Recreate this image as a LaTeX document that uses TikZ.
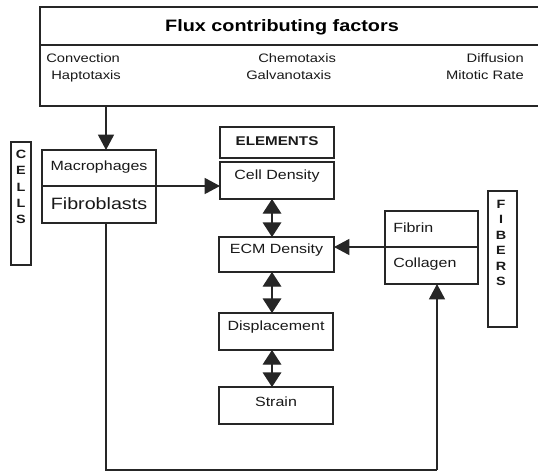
\documentclass[tikz,border=0pt]{standalone}
\usepackage{fontspec}
\setmainfont{Liberation Sans}[FakeStretch=1.2]
\usetikzlibrary{arrows.meta}
\begin{document}
\begin{tikzpicture}[x=0.75pt,y=-0.75pt,
  pbox/.style 2 args={draw=black!85, line width=0.8pt, inner sep=0pt, outer sep=0pt,
    minimum width=#1*0.75pt, minimum height=#2*0.75pt},
  lbl/.style={inner sep=0pt, font=\fontsize{10}{12}\selectfont, text=black!90},
  toplbl/.style={inner sep=0pt, font=\fontsize{9.2}{12}\selectfont, text=black!90},
  bigl/.style={inner sep=0pt, font=\fontsize{12.3}{14}\selectfont, text=black!90},
  boldl/.style={inner sep=0pt, font=\bfseries\fontsize{9.5}{12}\selectfont, text=black!90},
  titl/.style={inner sep=0pt, font=\bfseries\fontsize{12.4}{14}\selectfont, text=black},
  vlet/.style={inner sep=0pt, align=center, font=\bfseries\fontsize{9}{#1}\selectfont, text=black!90},
  link/.style={draw=black!85, line width=1pt, -{Triangle[length=11.5pt,width=12pt]}},
  dbl/.style={draw=black!85, line width=1pt,
    {Triangle[length=11pt,width=14pt]}-{Triangle[length=11pt,width=14pt]}},
  plain/.style={draw=black!85, line width=1pt}]
\clip (0,0) rectangle (538,472);
\fill[white] (0,0) rectangle (538,472);

% top box
\node[pbox={520}{38}] (head) at (300,26) {};
\node[pbox={520}{61}] (body) at (300,75.5) {};
\node[titl, anchor=base] (title) at (282,31) {Flux contributing factors};
\node[toplbl, anchor=base west] (conv) at (46,62) {Convection};
\node[toplbl, anchor=base west] (hapt) at (51,79) {Haptotaxis};
\node[toplbl, anchor=base west] (chem) at (258,62) {Chemotaxis};
\node[toplbl, anchor=base west] (galv) at (246,79) {Galvanotaxis};
\node[toplbl, anchor=base east] (diff) at (524,62) {Diffusion};
\node[toplbl, anchor=base east] (mito) at (524,79) {Mitotic Rate};

% cells
\node[pbox={20}{123}] (cells) at (21,203.5) {};
\node[vlet=12.2pt] (cellst) at (21,187) {C\\E\\L\\L\\S};
\node[pbox={114}{36}] (mac) at (99,168) {};
\node[pbox={114}{37}] (fib) at (99,204.5) {};
\node[lbl] (mact) at ([yshift=1pt]mac.center) {Macrophages};
\node[bigl] (fibt) at ([yshift=1pt]fib.center) {Fibroblasts};

% elements
\node[pbox={114}{31}] (elem) at (277,142.5) {};
\node[boldl] (elemt) at ([yshift=1pt]elem.center) {ELEMENTS};
\node[pbox={114}{37}] (cell) at (277,180.5) {};
\node[lbl] (cellt) at ([yshift=3pt]cell.center) {Cell Density};
\node[pbox={115}{35}] (ecm) at (276.5,254.5) {};
\node[lbl] (ecmt) at ([yshift=3pt]ecm.center) {ECM Density};
\node[pbox={114}{37}] (disp) at (276,331.5) {};
\node[lbl] (dispt) at ([yshift=3pt]disp.center) {Displacement};
\node[pbox={114}{37}] (strain) at (276,405.5) {};
\node[lbl] (straint) at ([yshift=3pt]strain.center) {Strain};

% fibers
\node[pbox={93}{36}] (fibrin) at (431.5,229) {};
\node[pbox={93}{37}] (coll) at (431.5,265.5) {};
\node[lbl, anchor=west] (fibrint) at ([xshift=6pt,yshift=1pt]fibrin.west) {Fibrin};
\node[lbl, anchor=west] (collt) at ([xshift=6pt,yshift=1pt]coll.west) {Collagen};
\node[pbox={29}{136}] (fibers) at (502.5,259) {};
\node[vlet=11.55pt] (fiberst) at (501,243) {F\\I\\B\\E\\R\\S};

% connectors
\coordinate (ax) at (272,0);
\coordinate (bl) at (106,470);
\coordinate (br) at (437,470);
\draw[link] (body.south -| bl) -- (mac.north -| bl);
\draw[link] (mac.south east) -- (mac.south east -| cell.west);
\draw[link] (fibrin.south west) -- (fibrin.south west -| ecm.east);
\draw[dbl] (cell.south -| ax) -- (ecm.north -| ax);
\draw[dbl] (ecm.south -| ax) -- (disp.north -| ax);
\draw[dbl] (disp.south -| ax) -- (strain.north -| ax);
\draw[plain] (fib.south -| bl) -- (bl) -- (br);
\draw[link] (br) -- (coll.south -| br);
\end{tikzpicture}
\end{document}
